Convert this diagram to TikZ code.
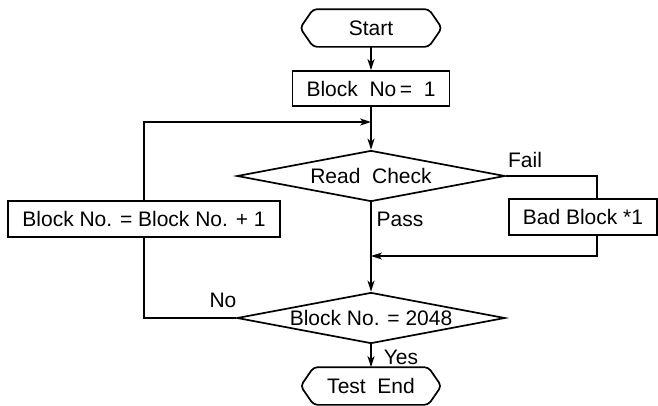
\documentclass[tikz,border=0pt]{standalone}
\usepackage{fontspec}
\setmainfont{Liberation Sans}
\usetikzlibrary{shapes.geometric,arrows.meta}
\begin{document}
\begin{tikzpicture}[x=1pt,y=-1pt,line width=1.7pt,
  txt/.style={font=\fontsize{21}{23}\selectfont},
  box/.style={txt,draw,rectangle,inner sep=0pt,minimum height=36pt},
  term/.style={txt,rectangle,inner sep=0pt,minimum height=36pt,
    append after command={\pgfextra{\draw[rounded corners=4pt,line width=1.7pt]
      ([xshift=13pt]\tikzlastnode.north west) -- ([xshift=-13pt]\tikzlastnode.north east)
      -- (\tikzlastnode.east) -- ([xshift=-13pt]\tikzlastnode.south east)
      -- ([xshift=13pt]\tikzlastnode.south west) -- (\tikzlastnode.west) -- cycle;}}},
  dec/.style={txt,draw,diamond,aspect=5.2,inner sep=0pt,minimum width=268pt,minimum height=51pt},
  lbl/.style={txt,inner sep=0pt},
  arr/.style={-{Stealth[length=11pt,width=7pt,inset=3pt]}}]
\useasboundingbox (0,0) rectangle (658,405);
\node[term,minimum width=140pt] (start) at (371,28) {Start};
\node[box,minimum width=157pt,minimum height=35pt] (init) at (371,88.5) {Block~ No\,= ~1};
\node[dec] (read) at (371,176) {Read~ Check};
\node[box,minimum width=272pt] (incr) at (144,219) {Block No. = Block No. + 1};
\node[box,minimum width=148pt] (bad) at (583,217) {Bad Block *1};
\node[dec] (chk) at (371,318) {Block No. = 2048};
\node[term,minimum width=139pt] (end) at (371,386) {Test~ End};
\coordinate (join1) at (371,122);
\coordinate (join2) at (371,256);
\coordinate (fA) at (597,176);
\coordinate (fB) at (597,256);
\node[lbl] (fail) at (525,160) {Fail};
\node[lbl] (pass) at (400,219) {Pass};
\node[lbl] (no) at (223,300) {No};
\node[lbl] (yes) at (401,357) {Yes};
\draw[arr] (start) -- (init);
\draw[arr] (init) -- (read);
\draw[arr] (read) -- (chk);
\draw[arr] (chk) -- (end);
\draw (chk.west) -| (incr.south);
\draw[arr] (incr.north) |- (join1);
\draw (read.east) -- (fA) -- (fA |- bad.north);
\draw[arr] (fA |- bad.south) -- (fB) -- (join2);
\end{tikzpicture}
\end{document}
